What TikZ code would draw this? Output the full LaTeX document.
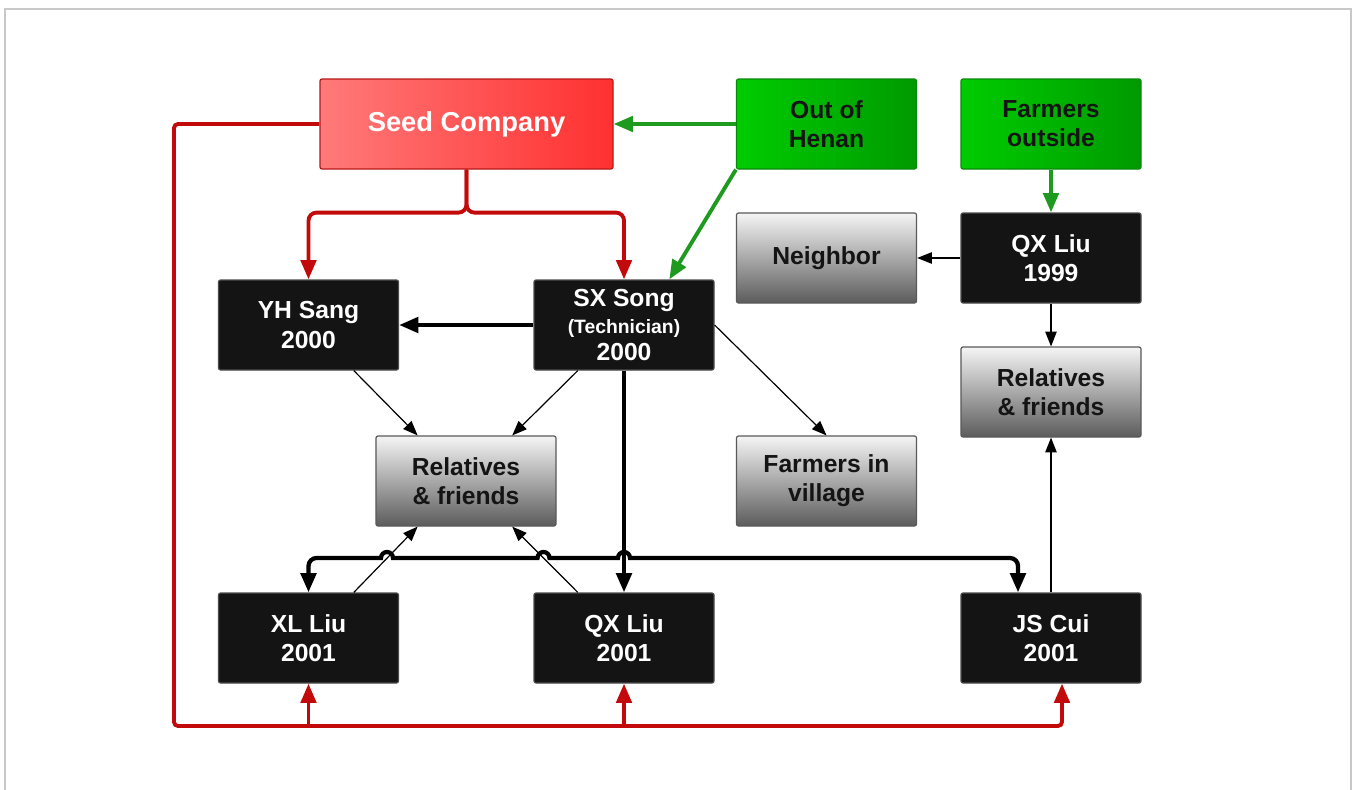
\documentclass[tikz,border=0pt]{standalone}
\usepackage{fontspec}
\setmainfont{Liberation Sans}
\usetikzlibrary{arrows.meta,calc}

\definecolor{redline}{HTML}{C20A0A}
\definecolor{greenline}{HTML}{1E9A1E}
\definecolor{framegray}{HTML}{C8C8C8}
\definecolor{boxblack}{HTML}{141414}
\definecolor{redlight}{HTML}{FF7A7A}
\definecolor{reddark}{HTML}{FF3030}
\definecolor{redborder}{HTML}{B81818}
\definecolor{greenlight}{HTML}{00CC00}
\definecolor{greendark}{HTML}{009A00}
\definecolor{greenborder}{HTML}{0A8A0A}

\begin{document}
\begin{tikzpicture}[x=0.75pt,y=0.75pt,
  box/.style={minimum width=135pt, minimum height=67.5pt, inner sep=0pt,
    rounded corners=1.5pt, align=center, line width=0.9pt,
    font=\fontsize{18.5}{21.8}\selectfont\bfseries},
  blackbox/.style={box, draw=black!70, fill=boxblack, text=white},
  graybox/.style={box, draw=black!65, top color=white!96!black, bottom color=black!64, text=black!92},
  greenbox/.style={box, draw=greenborder, left color=greenlight, right color=greendark, text=black!92},
  redbox/.style={box, draw=redborder, left color=redlight, right color=reddark, text=white,
    font=\fontsize{20.5}{24}\selectfont\bfseries},
  redl/.style={draw=redline, line width=2.9pt},
  greenl/.style={draw=greenline, line width=2.9pt},
  boldl/.style={draw=black, line width=3.2pt},
  thinl/.style={draw=black, line width=0.9pt},
  bigtip/.style={-{Triangle[length=14.5pt,width=11.5pt]}},
  smalltip/.style={-{Triangle[length=11pt,width=8.5pt]}}
]
\useasboundingbox (0,0) rectangle (1352,-789);
\fill[white] (0,0) rectangle (1352,-789);
% outer frame
\draw[framegray, line width=1.5pt] (5,-800) -- (5,-9) -- (1351,-9) -- (1351,-800);

% boxes
\node[redbox, minimum width=219.75pt] (seed) at (466.5,-124) {Seed Company};
\node[greenbox] (henan) at (826.5,-124) {Out of\\Henan};
\node[greenbox] (fout) at (1051,-124) {Farmers\\outside};
\node[graybox] (neigh) at (826.5,-258) {Neighbor};
\node[blackbox] (qx99) at (1051,-258) {QX Liu\\1999};
\node[blackbox] (yh) at (308.5,-325) {YH Sang\\2000};
\node[blackbox, font=\fontsize{18.5}{20.3}\selectfont\bfseries] (sx) at (624,-325)
  {SX Song\\{\fontsize{14.5}{20.3}\selectfont (Technician)}\\2000};
\node[graybox] (relm) at (466,-481) {Relatives\\\& friends};
\node[graybox] (fvil) at (826.5,-481) {Farmers in\\village};
\node[graybox] (relr) at (1051,-392) {Relatives\\\& friends};
\node[blackbox] (xl) at (308.5,-638) {XL Liu\\2001};
\node[blackbox] (qx01) at (624,-638) {QX Liu\\2001};
\node[blackbox] (js) at (1051,-638) {JS Cui\\2001};

% seed company supply lines
\draw[redl, bigtip, rounded corners=6pt] (seed.south) -- ++(0,-43) -| (yh.north);
\draw[redl, bigtip, rounded corners=6pt] (seed.south) -- ++(0,-43) -| (sx.north);
\coordinate (loopL) at (174,-124);
\coordinate (loopB) at (174,-726);
\draw[redl, bigtip, rounded corners=3pt] (seed.west) -- (loopL) -- (loopB)
  -| ($(js.south)+(11,0)$);
\draw[redl, bigtip] (xl.south |- loopB) -- (xl.south);
\draw[redl, bigtip] (qx01.south |- loopB) -- (qx01.south);

% green inflows
\draw[greenl, bigtip] (henan.west) -- (seed.east);
\draw[greenl, bigtip] (henan.south west) -- ($(sx.north east)!0.25!(sx.north west)$);
\draw[greenl, bigtip] (fout.south) -- (qx99.north);

% QX Liu 1999 links
\draw[thinl, smalltip] (qx99.west) -- (neigh.east);
\draw[thinl, smalltip] (qx99.south) -- (relr.north);
\draw[thinl, smalltip] (js.north) -- (relr.south);

% SX Song links
\draw[boldl, bigtip] (sx.west) -- (yh.east);
\draw[boldl, bigtip] (sx.south) -- (qx01.north);
\draw[thinl, smalltip] (sx.east) -- (fvil.north);
\draw[thinl, smalltip] ($(sx.south west)!0.245!(sx.south east)$) -- ($(relm.north west)!0.755!(relm.north east)$);
\draw[thinl, smalltip] ($(yh.south west)!0.75!(yh.south east)$) -- ($(relm.north west)!0.233!(relm.north east)$);

% 2001 growers to relatives
\draw[thinl, smalltip] ($(xl.north west)!0.75!(xl.north east)$) -- ($(relm.south west)!0.233!(relm.south east)$);
\draw[thinl, smalltip] ($(qx01.north west)!0.245!(qx01.north east)$) -- ($(relm.south west)!0.755!(relm.south east)$);

% XL Liu <-> JS Cui, hopping over crossings
\draw[boldl, {Triangle[length=14.5pt,width=11.5pt]}-{Triangle[length=14.5pt,width=11.5pt]}]
  (xl.north) -- (308.5,-566) arc(180:90:8) -- (381,-558) arc(180:0:6)
  -- (537.5,-558) arc(180:0:6) -- (618,-558) arc(180:0:6)
  -- (1010,-558) arc(90:0:8) -- ($(js.north)+(-33,0)$);
\end{tikzpicture}
\end{document}
